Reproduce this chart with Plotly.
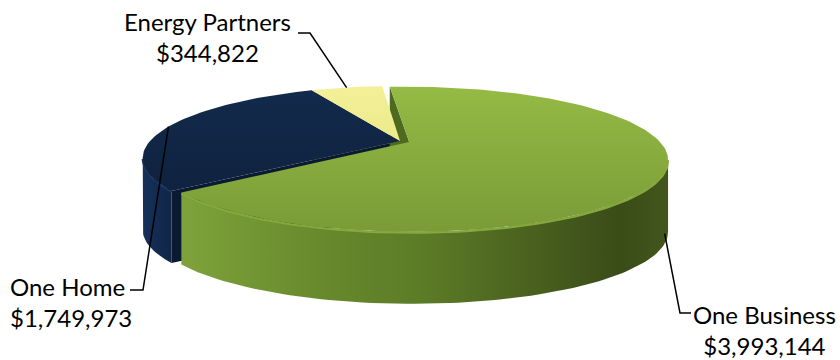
import math
import plotly.graph_objects as go

# ---------------- data ----------------
labels = ["One Business", "One Home", "Energy Partners"]   # clockwise order
values = [3993144, 1749973, 344822]
top_colors = [["#95BA45", "#7A9B37"], ["#132A4C", "#0F223F"], ["#F3F09A", "#ECEA8A"]]
edge_colors = ["#86A93D", "#1A355E", "#E6E488"]
wall_colors = [
    [[0, "#7EA23B"], [0.3, "#67882C"], [0.5, "#5C7B27"], [0.75, "#475D1D"], [0.9, "#3A4C18"], [1, "#42561C"]],
    [[0, "#15305A"], [1, "#102646"]],
    [[0, "#D8D67A"], [1, "#C8C66A"]],
]
cut_colors = ["#4F6A1F", "#0B1A33", "#BDBB62"]
explode = [0.04, 0.0, 0.0]

# ---------------- projection (pixels) ----------------
CX, CY = 400, 141      # projected pie centre
A, B, K = 68, 250, 0.236
T = 72                 # extrusion height
START = -5.0

def proj(th, ox=0.0, oz=0.0):
    r = math.radians(th)
    X = math.sin(r) + ox
    Z = math.cos(r) + oz
    w = 1 + K * Z
    return CX + B * X / w, CY - A * Z / w

def centre(ox, oz):
    w = 1 + K * oz
    return CX + B * ox / w, CY - A * oz / w

def arc(a0, a1, ox, oz, n=None):
    if n is None:
        n = max(4, int(abs(a1 - a0) / 1.5))
    return [proj(a0 + (a1 - a0) * i / n, ox, oz) for i in range(n + 1)]

total = sum(values)
slices = []
a = START
for i, v in enumerate(values):
    span = 360.0 * v / total
    mid = a + span / 2
    mr = math.radians(mid)
    ox, oz = explode[i] * math.sin(mr), explode[i] * math.cos(mr)
    slices.append(dict(i=i, a0=a, a1=a + span, mid=mid, ox=ox, oz=oz))
    a += span

TH_R = math.degrees(math.acos(-K))          # right silhouette angle
TH_L = 360 - TH_R                           # left silhouette angle

fig = go.Figure()

def poly(pts, color=None, grad=None):
    xs = [p[0] for p in pts] + [pts[0][0]]
    ys = [p[1] for p in pts] + [pts[0][1]]
    kw = dict(x=xs, y=ys, mode="lines", fill="toself", line=dict(width=0),
              hoverinfo="skip", showlegend=False)
    if grad is not None:
        kw["fillgradient"] = grad
        kw["fillcolor"] = grad["colorscale"][0][1]
    else:
        kw["fillcolor"] = color
    fig.add_trace(go.Scatter(**kw))

camZ = -1.0 / K
# sides: back to front (yellow, navy, green)
for s in sorted(slices, key=lambda s: -math.cos(math.radians(s["mid"]))):
    i, ox, oz = s["i"], s["ox"], s["oz"]
    c = centre(ox, oz)
    # cut faces
    for th, sign in ((s["a0"], -1), (s["a1"], 1)):
        r = math.radians(th)
        nx, nz = sign * math.cos(r), -sign * math.sin(r)
        if nx * (0 - ox) + nz * (camZ - oz) > 0:
            p = proj(th, ox, oz)
            poly([c, p, (p[0], p[1] + T), (c[0], c[1] + T)], color=cut_colors[i])
    # front wall
    lo, hi = max(s["a0"], TH_R), min(s["a1"], TH_L)
    if hi > lo:
        top = arc(lo, hi, ox, oz)
        bot = [(x, y + T) for x, y in reversed(top)]
        poly(top + bot, grad=dict(type="horizontal", colorscale=wall_colors[i]))
        fig.add_trace(go.Scatter(x=[p[0] for p in top], y=[p[1] + 1 for p in top], mode="lines",
                                 line=dict(color=edge_colors[i], width=2),
                                 hoverinfo="skip", showlegend=False))

# top faces
for s in slices:
    i = s["i"]
    c = centre(s["ox"], s["oz"])
    pts = [c] + arc(s["a0"], s["a1"], s["ox"], s["oz"])
    poly(pts, grad=dict(type="vertical",
                        colorscale=[[0, top_colors[i][1]], [1, top_colors[i][0]]]))

# ---------------- labels ----------------
label_pos = {"Energy Partners": (207, 37, "center"),
             "One Home": (8, 302, "left"),
             "One Business": (764, 330, "center")}
leader_end = {"Energy Partners": [(310, 33), (298, 33)],
              "One Home": [(143, 290), (130, 290)],
              "One Business": [(680, 313), (691, 313)]}
wall_anchor = {"Energy Partners": 0, "One Home": 0, "One Business": 62}

for s in slices:
    name = labels[s["i"]]
    ax_, ay_ = proj(s["mid"], s["ox"], s["oz"])
    ay_ += wall_anchor[name]
    pts = [(ax_, ay_)] + leader_end[name]
    fig.add_trace(go.Scatter(x=[p[0] for p in pts], y=[p[1] for p in pts], mode="lines",
                             line=dict(color="black", width=1.5),
                             hoverinfo="skip", showlegend=False))
    x, y, al = label_pos[name]
    fig.add_annotation(x=x, y=y, text=f"{name}<br>${values[s['i']]:,}",
                       showarrow=False, xanchor=al, yanchor="middle", align=al,
                       font=dict(family="Lato, Carlito, sans-serif", size=24, color="black"))

fig.update_xaxes(range=[0, 840], visible=False, fixedrange=True)
fig.update_yaxes(range=[360, 0], visible=False, fixedrange=True)
fig.update_layout(width=840, height=360, margin=dict(l=0, r=0, t=0, b=0),
                  paper_bgcolor="white", plot_bgcolor="white")
fig.write_html("out.html", config={"displayModeBar": False},
               post_script="document.body.style.margin='0px';")
